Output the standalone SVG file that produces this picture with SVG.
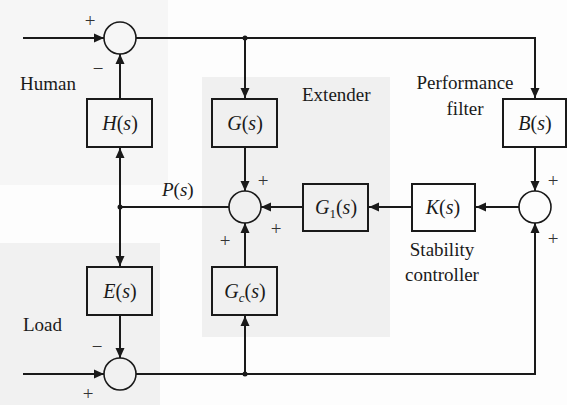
<svg xmlns="http://www.w3.org/2000/svg" width="567" height="405" viewBox="0 0 567 405">
<style>
.ln{fill:none;stroke:#1a1a1a;stroke-width:2}
.bx{fill:none;stroke:#1a1a1a;stroke-width:2}
.sj{fill:none;stroke:#1a1a1a;stroke-width:1.6}
text{font-family:'Liberation Serif','Times New Roman','DejaVu Serif',serif}
.lb{font-size:20px;text-anchor:middle;fill:#1a1a1a}
.tx{font-size:19px;fill:#1a1a1a}
.sg{font-size:19px;text-anchor:middle;dominant-baseline:central;fill:#333333}
.it{font-style:italic}
</style>
<defs>
<marker id="a" viewBox="0 0 10 10" refX="10" refY="5" markerWidth="10" markerHeight="10" markerUnits="userSpaceOnUse" orient="auto">
<path d="M0,0.5 L10,5 L0,9.5 z" fill="#1a1a1a"/>
</marker>
</defs>
<rect width="567" height="405" fill="#fdfdfd"/>
<rect x="0" y="0" width="168" height="185" fill="#f6f6f6"/>
<rect x="202" y="77" width="188" height="260" fill="#f0f0f0"/>
<rect x="0" y="243" width="160" height="162" fill="#f1f1f1"/>

<g id="connectors">
<line class="ln" x1="23" y1="38" x2="104" y2="38" marker-end="url(#a)"/>
<polyline class="ln" points="136,38 535,38 535,98" marker-end="url(#a)"/>
<line class="ln" x1="245" y1="38" x2="245" y2="98" marker-end="url(#a)"/>
<circle cx="245" cy="38" r="2.5" fill="#1a1a1a"/>
<line class="ln" x1="120" y1="99" x2="120" y2="54" marker-end="url(#a)"/>
<line class="ln" x1="229" y1="207" x2="120" y2="207"/>
<circle cx="120" cy="207" r="2.5" fill="#1a1a1a"/>
<line class="ln" x1="120" y1="207" x2="120" y2="148" marker-end="url(#a)"/>
<line class="ln" x1="120" y1="207" x2="120" y2="266" marker-end="url(#a)"/>
<line class="ln" x1="245" y1="147" x2="245" y2="191" marker-end="url(#a)"/>
<line class="ln" x1="303" y1="207" x2="261" y2="207" marker-end="url(#a)"/>
<line class="ln" x1="412" y1="207" x2="369" y2="207" marker-end="url(#a)"/>
<line class="ln" x1="519" y1="207" x2="476" y2="207" marker-end="url(#a)"/>
<line class="ln" x1="535" y1="147" x2="535" y2="191" marker-end="url(#a)"/>
<line class="ln" x1="245" y1="267" x2="245" y2="223" marker-end="url(#a)"/>
<line class="ln" x1="120" y1="315" x2="120" y2="358" marker-end="url(#a)"/>
<line class="ln" x1="23" y1="374" x2="104" y2="374" marker-end="url(#a)"/>
<polyline class="ln" points="136,374 535,374 535,223" marker-end="url(#a)"/>
<line class="ln" x1="245" y1="374" x2="245" y2="316" marker-end="url(#a)"/>
<circle cx="245" cy="374" r="2.5" fill="#1a1a1a"/>
</g>

<g id="sum-top"><circle class="sj" cx="120" cy="38" r="16"/>
<text class="sg" x="90" y="20">+</text><text class="sg" x="98" y="68">−</text></g>
<g id="sum-mid"><circle class="sj" cx="245" cy="207" r="16"/>
<text class="sg" x="263" y="180">+</text><text class="sg" x="276" y="228">+</text><text class="sg" x="225" y="240">+</text></g>
<g id="sum-right"><circle class="sj" cx="535" cy="207" r="16"/>
<text class="sg" x="553" y="180">+</text><text class="sg" x="553" y="238">+</text></g>
<g id="sum-bottom"><circle class="sj" cx="120" cy="374" r="16"/>
<text class="sg" x="97" y="346">−</text><text class="sg" x="88" y="393">+</text></g>

<g id="H"><rect class="bx" x="87" y="99" width="65" height="48"/>
<text class="lb" x="120" y="130"><tspan class="it">H</tspan>(<tspan class="it">s</tspan>)</text></g>
<g id="G"><rect class="bx" x="212" y="99" width="65" height="48"/>
<text class="lb" x="245" y="130"><tspan class="it">G</tspan>(<tspan class="it">s</tspan>)</text></g>
<g id="B"><rect class="bx" x="503" y="99" width="63" height="48"/>
<text class="lb" x="535" y="130"><tspan class="it">B</tspan>(<tspan class="it">s</tspan>)</text></g>
<g id="G1"><rect class="bx" x="303" y="184" width="65" height="47"/>
<text class="lb" x="336" y="214"><tspan class="it">G</tspan><tspan font-size="13" dy="4">1</tspan><tspan dy="-4">(</tspan><tspan class="it">s</tspan>)</text></g>
<g id="K"><rect class="bx" x="412" y="184" width="63" height="47"/>
<text class="lb" x="443" y="214"><tspan class="it">K</tspan>(<tspan class="it">s</tspan>)</text></g>
<g id="E"><rect class="bx" x="87" y="267" width="65" height="48"/>
<text class="lb" x="120" y="298"><tspan class="it">E</tspan>(<tspan class="it">s</tspan>)</text></g>
<g id="Gc"><rect class="bx" x="212" y="267" width="65" height="48"/>
<text class="lb" x="245" y="298"><tspan class="it">G</tspan><tspan class="it" font-size="13" dy="4">c</tspan><tspan dy="-4">(</tspan><tspan class="it">s</tspan>)</text></g>

<g id="labels">
<text class="tx" x="20" y="90">Human</text>
<text class="tx" x="302" y="101">Extender</text>
<text class="tx" x="465" y="89" text-anchor="middle">Performance</text>
<text class="tx" x="465" y="115" text-anchor="middle">filter</text>
<text class="tx" x="162" y="196"><tspan class="it">P</tspan>(<tspan class="it">s</tspan>)</text>
<text class="tx" x="442" y="256" text-anchor="middle">Stability</text>
<text class="tx" x="442" y="281" text-anchor="middle">controller</text>
<text class="tx" x="23" y="331">Load</text>
</g>
</svg>
